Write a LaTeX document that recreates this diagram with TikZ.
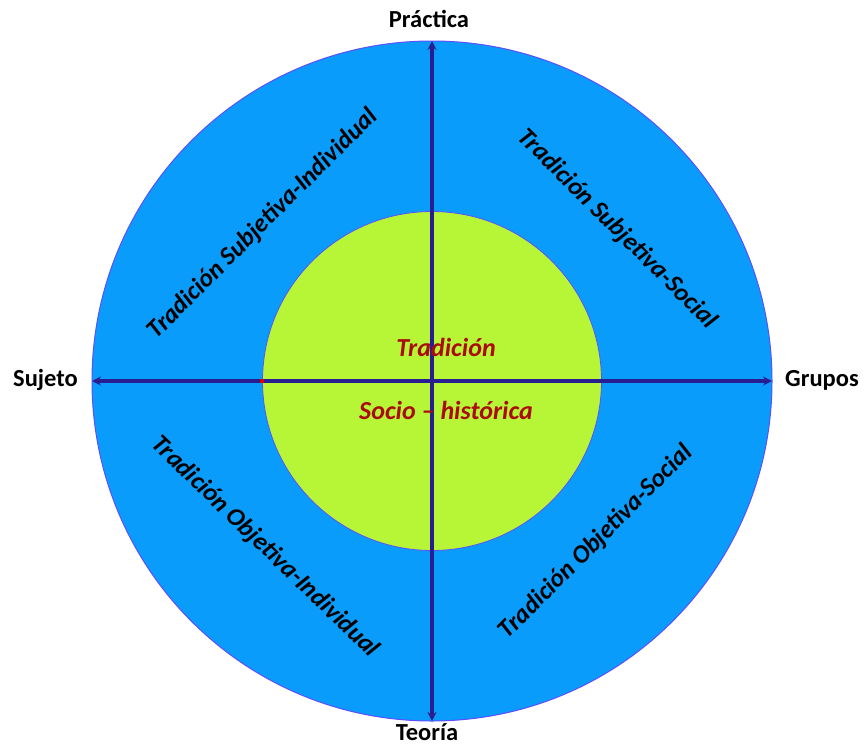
\documentclass[tikz,border=0pt]{standalone}
\usepackage{fontspec}
\setmainfont{Carlito}
\usetikzlibrary{arrows.meta}
\definecolor{outerblue}{RGB}{10,156,250}
\definecolor{innergreen}{RGB}{182,246,54}
\definecolor{axisblue}{RGB}{40,30,145}
\definecolor{rimblue}{RGB}{90,80,255}
\definecolor{textred}{RGB}{170,12,12}
\tikzset{
  axislbl/.style={font=\fontsize{24.5}{28}\selectfont\bfseries, text=black, inner sep=0pt},
  quadlbl/.style={font=\fontsize{25.5}{30}\selectfont\bfseries\itshape, text=black, inner sep=0pt},
  centerlbl/.style={font=\fontsize{26}{30}\selectfont\bfseries\itshape, text=textred, inner sep=0pt},
  axisline/.style={draw=axisblue, line width=3.5pt, {Stealth[length=9pt,width=9pt]}-{Stealth[length=9pt,width=9pt]}},
}
\begin{document}
\begin{tikzpicture}[x=1pt,y=-1pt]
\useasboundingbox (0,0) rectangle (867,745);
\fill[white] (0,0) rectangle (867,745);
% circles
\draw[fill=outerblue, draw=rimblue, line width=1pt] (432,381) circle[radius=340];
\draw[fill=innergreen, draw=rimblue, line width=0.8pt] (432,381) circle[radius=169.5];
% axis end points
\coordinate (top) at (432,41);
\coordinate (bot) at (432,721);
\coordinate (lft) at (92,381);
\coordinate (rgt) at (772,381);
\draw[axisline] (bot) -- (top);
\draw[axisline] (rgt) -- (lft);
\fill[red!85!black] (260,379) rectangle (264,383);
% axis labels
\node[axislbl, anchor=base] (prac) at (429,27) {Práctica};
\node[axislbl, anchor=base] (teor) at (427,740) {Teoría};
\node[axislbl, anchor=base west] (suj) at (13,386) {Sujeto};
\node[axislbl, anchor=base west] (grp) at (785,386) {Grupos};
% quadrant labels
\node[quadlbl, rotate=45] (q1) at (263,224) {Tradición Subjetiva-Individual};
\node[quadlbl, rotate=-45] (q2) at (617,229) {Tradición Subjetiva-Social};
\node[quadlbl, rotate=-44] (q3) at (265,547) {Tradición Objetiva-Individual};
\node[quadlbl, rotate=45] (q4) at (596,542) {Tradición Objetiva-Social};
% center labels
\node[centerlbl] (c1) at (446,347) {Tradición};
\node[centerlbl] (c2) at (446,410) {Socio -- histórica};
\end{tikzpicture}
\end{document}
